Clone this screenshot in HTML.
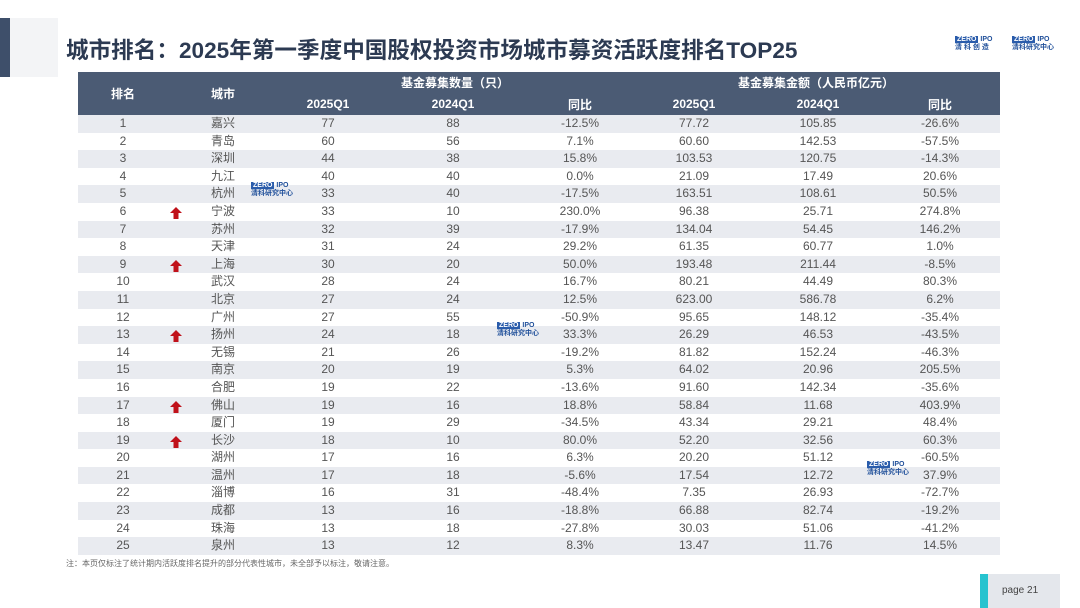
<!DOCTYPE html>
<html><head><meta charset="utf-8"><style>
body{margin:0;width:1080px;height:608px;background:#fff;position:relative;overflow:hidden;font-family:"Liberation Sans","Noto Sans CJK SC",sans-serif;}
.abs{position:absolute}
table{position:absolute;left:78px;top:72px;width:922px;border-collapse:collapse;table-layout:fixed}
th{background:#4b5b74;color:#fff;font-size:12px;font-weight:bold;height:21.5px;padding:0}
td{height:17.6px;padding:0;text-align:center;font-size:12px;color:#555;line-height:17.6px}
tbody tr:nth-child(odd) td{background:#e9ebf0}
.logo{position:absolute;font-size:7px;color:#1f4f9a;font-weight:bold;line-height:8px}
.logo b{background:#2a5cab;color:#fff;padding:0 2px}
</style></head><body>
<div class="abs" style="left:0;top:18px;width:10px;height:59px;background:#3e4f6a"></div>
<div class="abs" style="left:10px;top:18px;width:48px;height:59px;background:#f3f4f6"></div>
<div class="abs" style="left:66px;top:32px;font-size:22.6px;font-weight:bold;color:#2c3a52;white-space:nowrap">城市排名：2025年第一季度中国股权投资市场城市募资活跃度排名TOP25</div>
<div class="logo" style="left:955px;top:36px"><b>ZERO</b> IPO<br>清 科 创 造</div>
<div class="logo" style="left:1012px;top:36px"><b>ZERO</b> IPO<br>清科研究中心</div>
<table>
<colgroup><col style="width:90px"><col style="width:110px"><col style="width:100px"><col style="width:150px"><col style="width:104px"><col style="width:124px"><col style="width:124px"><col style="width:120px"></colgroup>
<thead>
<tr><th rowspan="2">排名</th><th rowspan="2">城市</th><th colspan="3">基金募集数量（只）</th><th colspan="3">基金募集金额（人民币亿元）</th></tr>
<tr><th>2025Q1</th><th>2024Q1</th><th>同比</th><th>2025Q1</th><th>2024Q1</th><th>同比</th></tr>
</thead>
<tbody id="tb"></tbody></table>
<div class="logo" style="left:251px;top:182px"><b>ZERO</b> IPO<br>清科研究中心</div>
<div class="logo" style="left:497px;top:322px"><b>ZERO</b> IPO<br>清科研究中心</div>
<div class="logo" style="left:867px;top:461px"><b>ZERO</b> IPO<br>清科研究中心</div>
<div class="abs" style="left:66px;top:558px;font-size:8px;color:#666">注：本页仅标注了统计期内活跃度排名提升的部分代表性城市，未全部予以标注，敬请注意。</div>
<div class="abs" style="left:980px;top:574px;width:8px;height:34px;background:#26c3cf"></div>
<div class="abs" style="left:988px;top:574px;width:72px;height:34px;background:#e4e7ec;font-size:10px;color:#444;line-height:34px;text-indent:14px">page 21</div>
<script>
const cities=["嘉兴","青岛","深圳","九江","杭州","宁波","苏州","天津","上海","武汉","北京","广州","扬州","无锡","南京","合肥","佛山","厦门","长沙","湖州","温州","淄博","成都","珠海","泉州"];
const cnt25=[77,60,44,40,33,33,32,31,30,28,27,27,24,21,20,19,19,19,18,17,17,16,13,13,13];
const cnt24=[88,56,38,40,40,10,39,24,20,24,24,55,18,26,19,22,16,29,10,16,18,31,16,18,12];
const cntYoy=["-12.5%","7.1%","15.8%","0.0%","-17.5%","230.0%","-17.9%","29.2%","50.0%","16.7%","12.5%","-50.9%","33.3%","-19.2%","5.3%","-13.6%","18.8%","-34.5%","80.0%","6.3%","-5.6%","-48.4%","-18.8%","-27.8%","8.3%"];
const amt25=["77.72","60.60","103.53","21.09","163.51","96.38","134.04","61.35","193.48","80.21","623.00","95.65","26.29","81.82","64.02","91.60","58.84","43.34","52.20","20.20","17.54","7.35","66.88","30.03","13.47"];
const amt24=["105.85","142.53","120.75","17.49","108.61","25.71","54.45","60.77","211.44","44.49","586.78","148.12","46.53","152.24","20.96","142.34","11.68","29.21","32.56","51.12","12.72","26.93","82.74","51.06","11.76"];
const amtYoy=["-26.6%","-57.5%","-14.3%","20.6%","50.5%","274.8%","146.2%","1.0%","-8.5%","80.3%","6.2%","-35.4%","-43.5%","-46.3%","205.5%","-35.6%","403.9%","48.4%","60.3%","-60.5%","37.9%","-72.7%","-19.2%","-41.2%","14.5%"];
const upRanks=[6,9,13,17,19];
const tb=document.getElementById('tb');
cities.forEach((c,i)=>{
  const tr=document.createElement('tr');
  
  
  [i+1,c,cnt25[i],cnt24[i],cntYoy[i],amt25[i],amt24[i],amtYoy[i]].forEach(v=>{
    const td=document.createElement('td');td.textContent=v;tr.appendChild(td);
  });
  tb.appendChild(tr);
});
upRanks.forEach(r=>{
  const y=115+(r-1)*17.6+3;
  const a=document.createElement('div');
  
  
  a.className='abs';
  a.style.cssText=`left:170px;top:${y}px;width:12px;height:12px`;
  a.innerHTML='<svg width="12" height="12"><polygon points="6,0 12,6 8.5,6 8.5,12 3.5,12 3.5,6 0,6" fill="#c0111a"/></svg>';
  document.body.appendChild(a);
});
</script>
</body></html>
